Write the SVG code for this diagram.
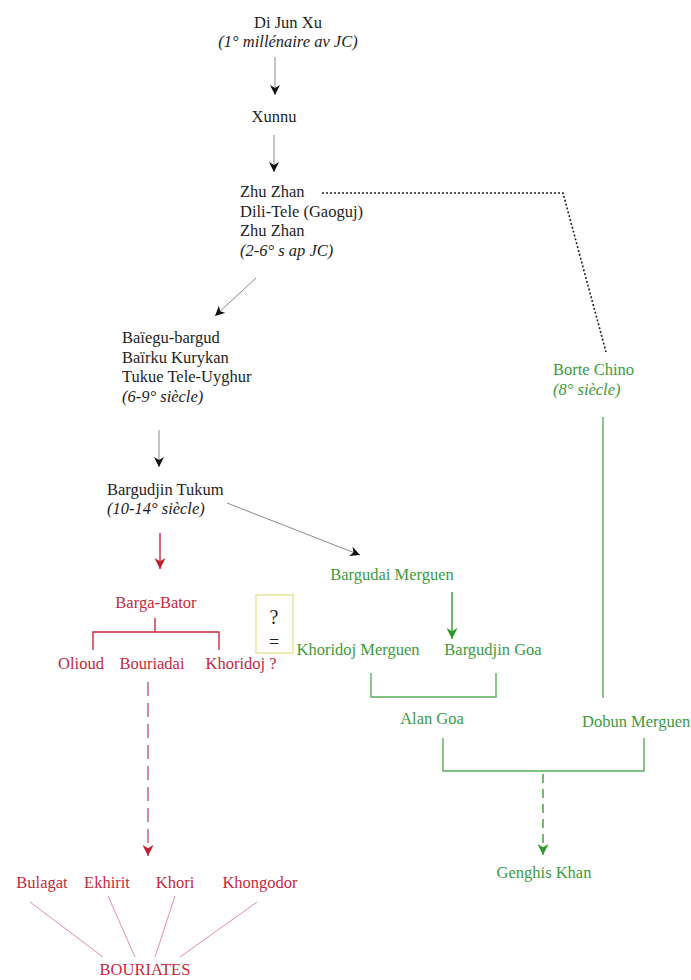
<svg xmlns="http://www.w3.org/2000/svg" width="691" height="980" viewBox="0 0 691 980">
<style>
text{font-family:"Liberation Serif","Times New Roman",serif;font-size:16.5px}
.k{fill:#1e1e1e}
.r{fill:#c42a3e}
.g{fill:#3d9b3d}
.i{font-style:italic}
.m{text-anchor:middle}
.gl{stroke:#8a8a8a;stroke-width:1;fill:none}
.rl{stroke:#c42a3e;stroke-width:1.4;fill:none}
.rd{stroke:#c87080;stroke-width:1.6;fill:none;stroke-dasharray:14 7}
.rt{stroke:#e090a0;stroke-width:1;fill:none}
.grl{stroke:#5aad5a;stroke-width:1.4;fill:none}
.gd{stroke:#3d9b3d;stroke-width:1.4;fill:none;stroke-dasharray:9 6}
.dot{stroke:#222;stroke-width:1.6;fill:none;stroke-dasharray:2 2}
</style>
<defs>
<marker id="ak" viewBox="0 0 10 10" refX="10" refY="5" markerWidth="10" markerHeight="10" markerUnits="userSpaceOnUse" orient="auto"><path d="M0,0 L10,5 L0,10 L3,5 z" fill="#111"/></marker>
<marker id="ar" viewBox="0 0 10 10" refX="10" refY="5" markerWidth="11" markerHeight="11" markerUnits="userSpaceOnUse" orient="auto"><path d="M0,0 L10,5 L0,10 L3,5 z" fill="#c0202e"/></marker>
<marker id="ag" viewBox="0 0 10 10" refX="10" refY="5" markerWidth="11" markerHeight="11" markerUnits="userSpaceOnUse" orient="auto"><path d="M0,0 L10,5 L0,10 L3,5 z" fill="#2e9a2e"/></marker>
</defs>
<g id="connectors">
<line class="gl" x1="275" y1="57" x2="275" y2="95" marker-end="url(#ak)"/>
<line class="gl" x1="274" y1="135" x2="274" y2="172" marker-end="url(#ak)"/>
<polyline class="dot" points="322,193 563,193 606,352"/>
<line class="gl" x1="256" y1="278" x2="215" y2="316" marker-end="url(#ak)"/>
<line class="gl" x1="159" y1="430" x2="159" y2="467" marker-end="url(#ak)"/>
<line class="gl" x1="227" y1="503" x2="360" y2="555" marker-end="url(#ak)"/>
<line class="rl" x1="160" y1="533" x2="160" y2="569" marker-end="url(#ar)"/>
<path class="rl" d="M155,618 V632 M93,650 V632 H219 V650"/>
<line class="rd" x1="148" y1="682" x2="148" y2="856" marker-end="url(#ar)"/>
<path class="rt" d="M30,902 L103,957 M108,896 L135,957 M175,896 L155,957 M257,902 L180,957"/>
<line class="grl" x1="452" y1="592" x2="452" y2="639" marker-end="url(#ag)" style="stroke:#2e9a2e"/>
<path class="grl" d="M371,673 V697 H496 V673"/>
<line class="grl" x1="603" y1="417" x2="603" y2="698"/>
<path class="grl" d="M443,738 V771 H644 V738"/>
<line class="gd" x1="543" y1="774" x2="543" y2="855" marker-end="url(#ag)"/>
</g>
<g id="n-dijunxu"><text class="k m" x="288" y="28">Di Jun Xu</text><text class="k m i" x="288" y="47">(1° millénaire av JC)</text></g>
<g id="n-xunnu"><text class="k m" x="274" y="122">Xunnu</text></g>
<g id="n-zhuzhan"><text class="k" x="240" y="197">Zhu Zhan</text><text class="k" x="240" y="216.5">Dili-Tele (Gaoguj)</text><text class="k" x="240" y="236">Zhu Zhan</text><text class="k i" x="240" y="255.5">(2-6° s ap JC)</text></g>
<g id="n-baiegu"><text class="k" x="122" y="343">Baïegu-bargud</text><text class="k" x="122" y="363">Baïrku Kurykan</text><text class="k" x="122" y="382">Tukue Tele-Uyghur</text><text class="k i" x="122" y="402">(6-9° siècle)</text></g>
<g id="n-bargudjin"><text class="k" x="107" y="495">Bargudjin Tukum</text><text class="k i" x="107" y="514">(10-14° siècle)</text></g>
<g id="n-bargabator"><text class="r m" x="156" y="608">Barga-Bator</text></g>
<g id="n-olioud"><text class="r m" x="81" y="669">Olioud</text></g>
<g id="n-bouriadai"><text class="r m" x="152" y="669">Bouriadai</text></g>
<g id="n-khoridoj"><text class="r m" x="241" y="669">Khoridoj ?</text></g>
<g id="n-question"><rect x="256" y="595" width="37" height="58" fill="none" stroke="#e6e6a0" stroke-width="1.5"/><text class="k m" x="274" y="624" style="font-size:20px">?</text><text class="k m" x="274" y="648" style="font-size:18px">=</text></g>
<g id="n-bulagat"><text class="r m" x="42" y="888">Bulagat</text></g>
<g id="n-ekhirit"><text class="r m" x="107" y="888">Ekhirit</text></g>
<g id="n-khori"><text class="r m" x="175" y="888">Khori</text></g>
<g id="n-khongodor"><text class="r m" x="260" y="888">Khongodor</text></g>
<g id="n-bouriates"><text class="r m" x="145" y="975">BOURIATES</text></g>
<g id="n-bargudai"><text class="g m" x="392" y="580">Bargudai Merguen</text></g>
<g id="n-khoridojm"><text class="g m" x="358" y="655">Khoridoj Merguen</text></g>
<g id="n-bargudjingoa"><text class="g m" x="493" y="655">Bargudjin Goa</text></g>
<g id="n-alangoa"><text class="g m" x="432" y="724">Alan Goa</text></g>
<g id="n-borte"><text class="g" x="553" y="375">Borte Chino</text><text class="g i" x="553" y="395">(8° siècle)</text></g>
<g id="n-dobun"><text class="g" x="582" y="727">Dobun Merguen</text></g>
<g id="n-genghis"><text class="g m" x="544" y="878">Genghis Khan</text></g>
</svg>
